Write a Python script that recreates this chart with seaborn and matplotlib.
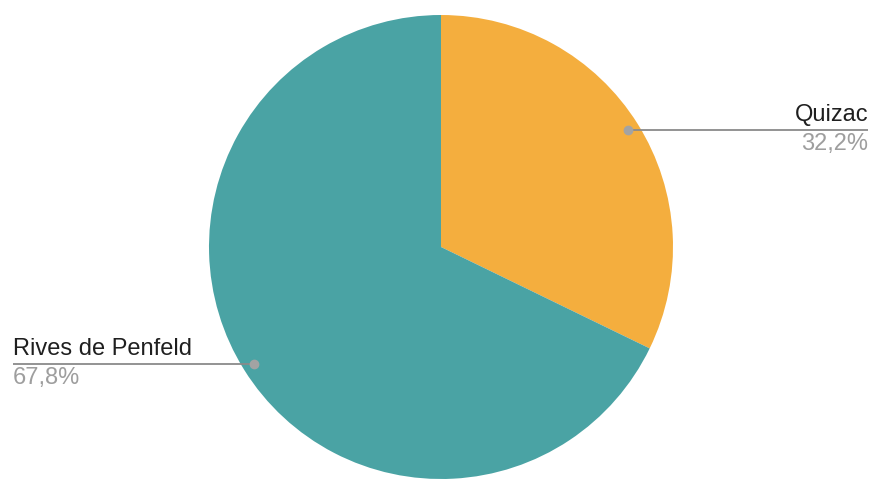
import numpy as np
import matplotlib
matplotlib.use("Agg")
import matplotlib.pyplot as plt
import seaborn as sns

# -----------------------------
# DATA
# -----------------------------
labels = ["Quizac", "Rives de Penfeld"]
shares = [32.2, 67.8]
pct_labels = ["32,2%", "67,8%"]
colors = ["#F4AE3E", "#4AA3A4"]

# -----------------------------
# STYLE
# -----------------------------
sns.set_theme(style="white")
plt.rcParams['font.family'] = ['Liberation Sans', 'DejaVu Sans']

W, H = 884, 488
fig = plt.figure(figsize=(W / 100, H / 100), dpi=100)
ax = fig.add_axes([0, 0, 1, 1])

cx, cy, R = 441, H - 247, 232
wedges, _ = ax.pie(shares, colors=colors, startangle=90, counterclock=False,
                   center=(cx, cy), radius=R, frame=True,
                   wedgeprops=dict(linewidth=0))
ax.set_xlim(0, W)
ax.set_ylim(0, H)
ax.set_aspect("equal")
ax.axis("off")

# -----------------------------
# CALLOUTS
# -----------------------------
for w, name, pct in zip(wedges, labels, pct_labels):
    mid = np.deg2rad((w.theta1 + w.theta2) / 2)
    px = cx + 0.95 * R * np.cos(mid)
    py = cy + 0.95 * R * np.sin(mid)
    if px > cx:
        x_end, ha = 868, "right"
    else:
        x_end, ha = 13, "left"
    ax.plot([px, x_end], [py, py], color="#8A8A8A", lw=1.3, solid_capstyle="butt", zorder=3)
    ax.plot(px, py, "o", color="#A3A3A3", ms=6, zorder=4)
    ax.text(x_end, py + 4, name, ha=ha, va="bottom", fontsize=17, color="#1F1F1F")
    ax.text(x_end, py - 3, pct, ha=ha, va="top", fontsize=17, color="#9E9E9E")

fig.savefig("out.png", dpi=100)
